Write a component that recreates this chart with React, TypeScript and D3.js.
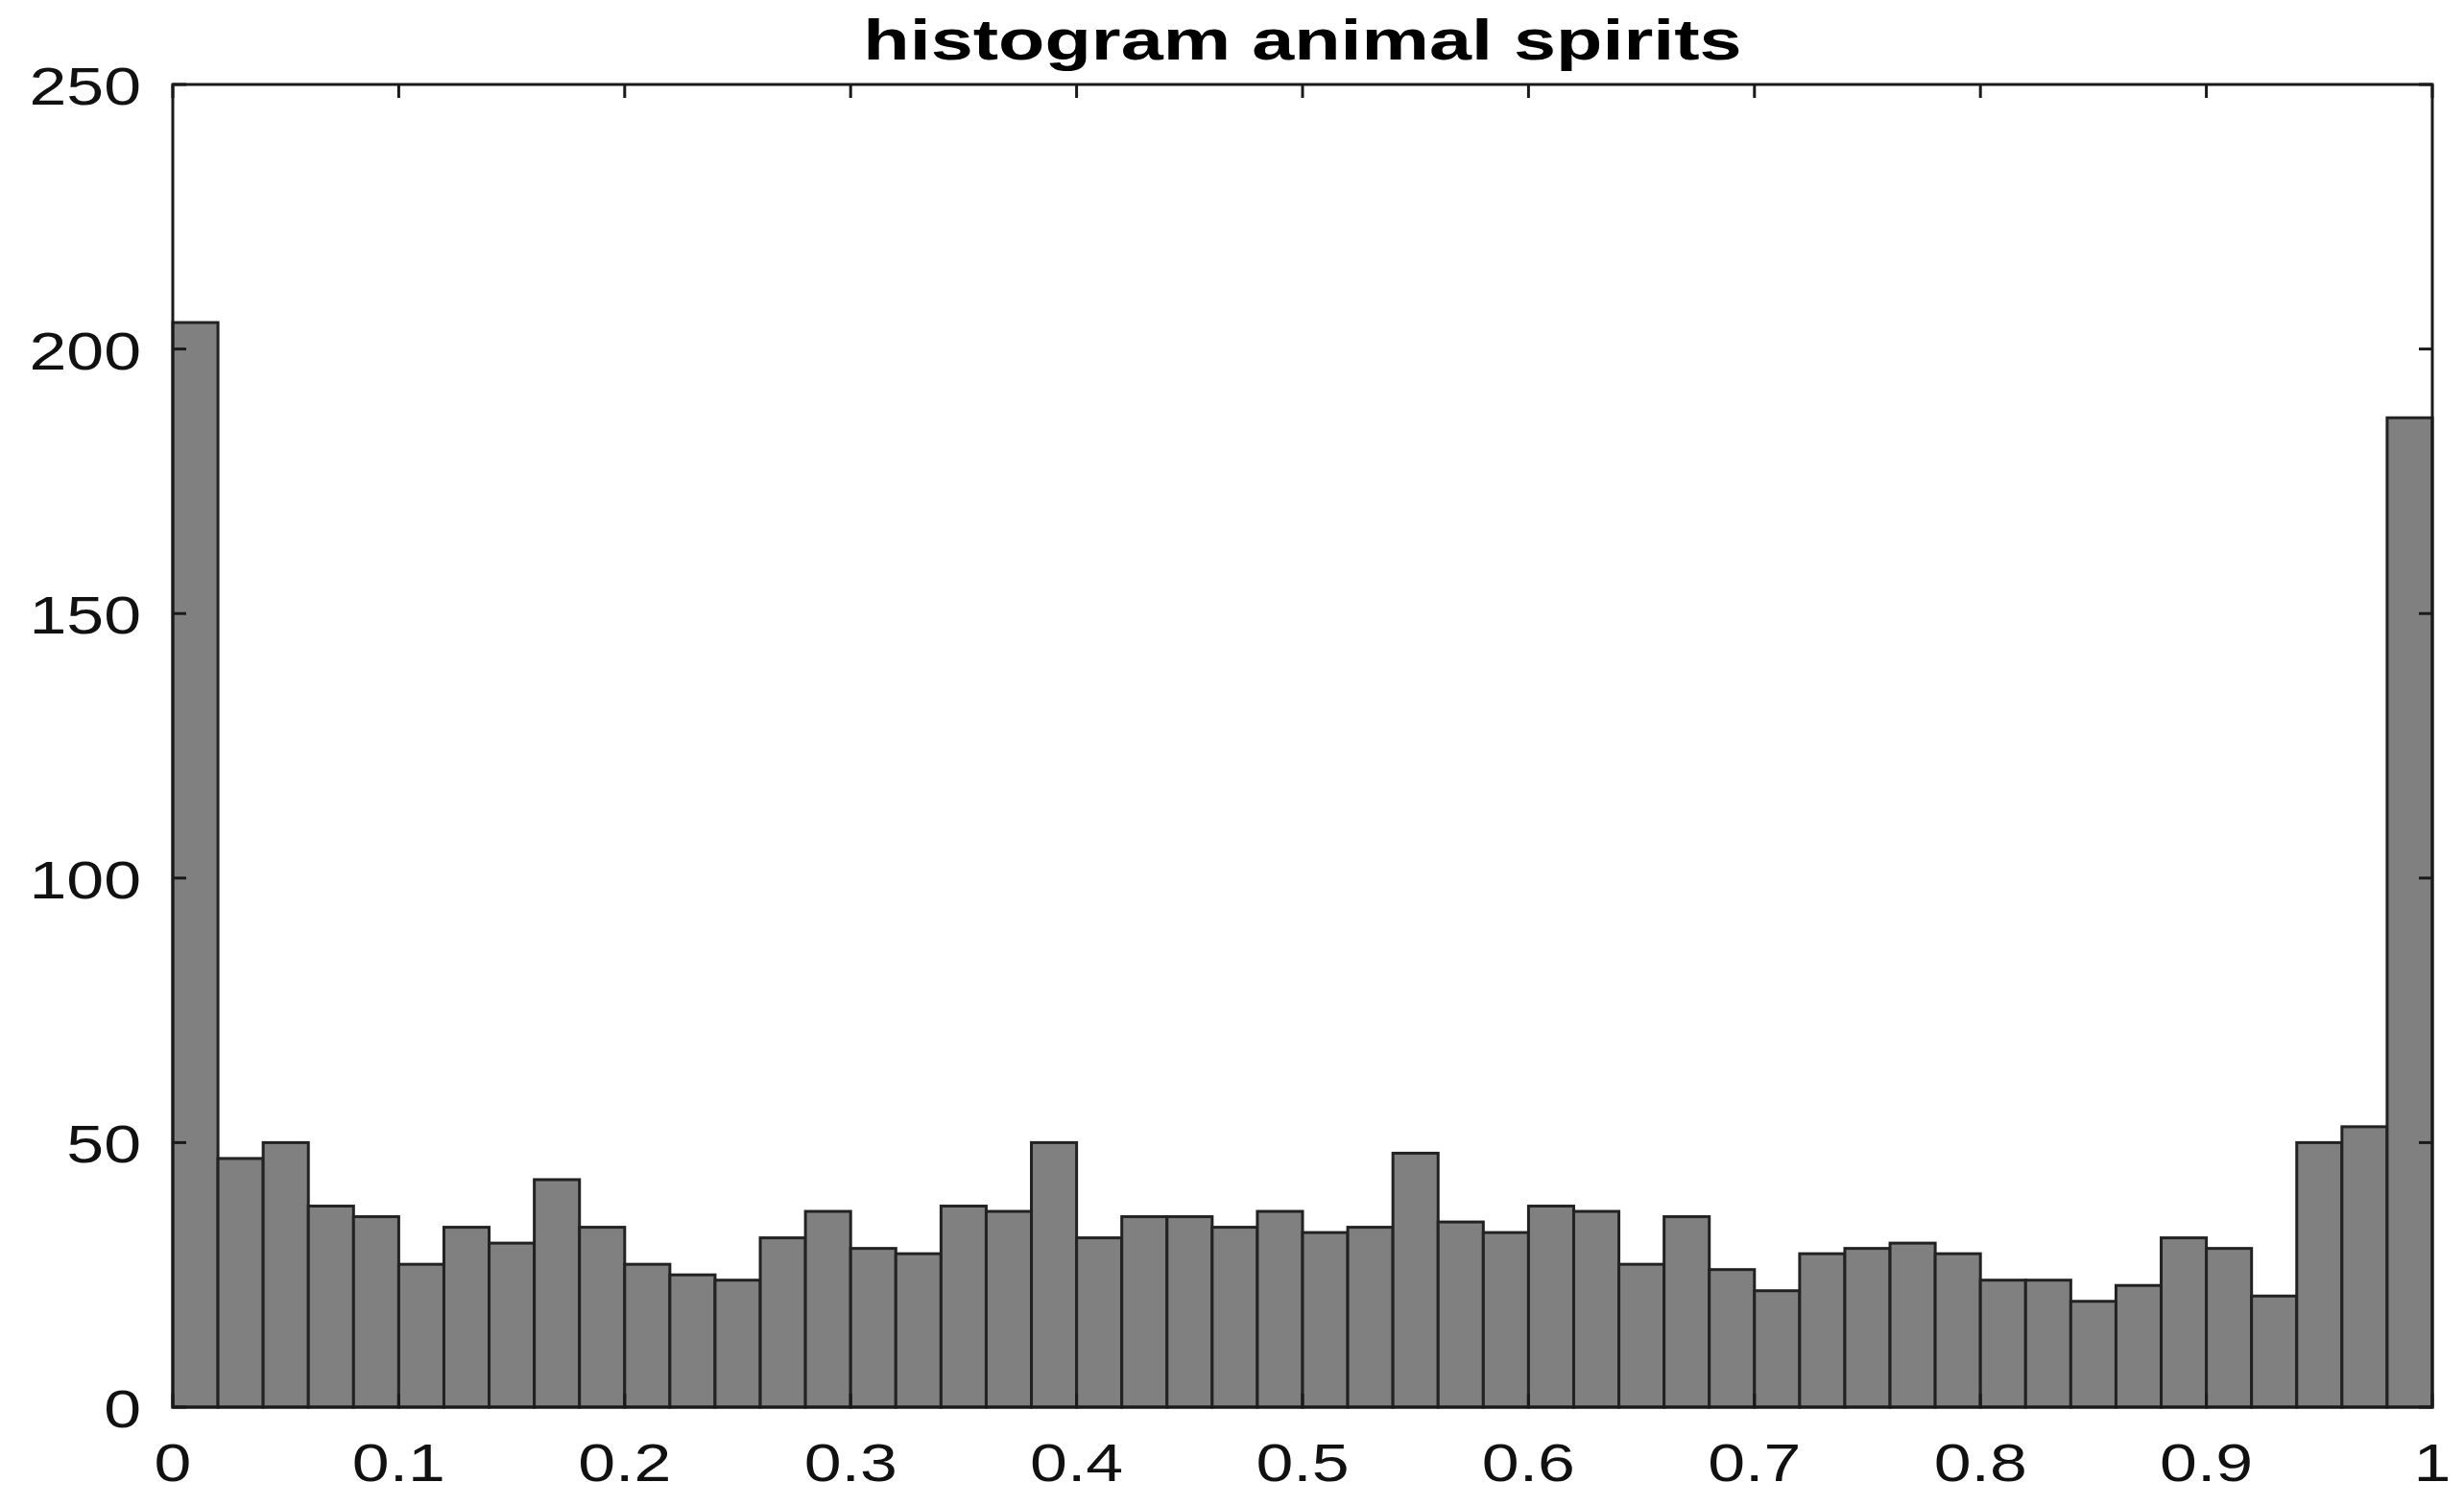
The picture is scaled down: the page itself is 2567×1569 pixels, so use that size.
import React from "react";
import * as d3 from "d3";

const title = "histogram animal spirits";
const binWidth = 0.02;
const counts = [
  205, 47, 50, 38, 36, 27, 34, 31, 43, 34,
  27, 25, 24, 32, 37, 30, 29, 38, 37, 50,
  32, 36, 36, 34, 37, 33, 34, 48, 35, 33,
  38, 37, 27, 36, 26, 22, 29, 30, 31, 29,
  24, 24, 20, 23, 32, 30, 21, 50, 53, 187,
];
const xTicks = [0, 0.1, 0.2, 0.3, 0.4, 0.5, 0.6, 0.7, 0.8, 0.9, 1];
const xTickLabels = ["0", "0.1", "0.2", "0.3", "0.4", "0.5", "0.6", "0.7", "0.8", "0.9", "1"];
const yTicks = [0, 50, 100, 150, 200, 250];
const yTickLabels = ["0", "50", "100", "150", "200", "250"];

const W = 2567;
const H = 1569;
const left = 180, right = 2534, top = 88, bottom = 1466;
const SX = 1.27;
const FONT = "'Liberation Sans', Arial, Helvetica, sans-serif";

export default function App() {
  const x = d3.scaleLinear().domain([0, 1]).range([left, right]);
  const y = d3.scaleLinear().domain([0, 250]).range([bottom, top]);
  const tickLen = 14;
  const axisColor = "#1a1a1a";

  return (
    <svg
      width={W}
      height={H}
      style={{ position: "absolute", left: 0, top: 0, background: "#fff" }}
    >
      <rect x={0} y={0} width={W} height={H} fill="#fff" />
      {counts.map((c, i) => {
        const x0 = x(i * binWidth);
        const x1 = x((i + 1) * binWidth);
        return (
          <rect
            key={i}
            x={x0}
            y={y(c)}
            width={x1 - x0}
            height={y(0) - y(c)}
            fill="#808080"
            stroke="#222"
            strokeWidth={3}
          />
        );
      })}
      <rect
        x={left}
        y={top}
        width={right - left}
        height={bottom - top}
        fill="none"
        stroke={axisColor}
        strokeWidth={3}
      />
      {xTicks.map((t, i) => (
        <g key={"xt" + i}>
          <line x1={x(t)} x2={x(t)} y1={top} y2={top + tickLen} stroke={axisColor} strokeWidth={3} />
          <line x1={x(t)} x2={x(t)} y1={bottom} y2={bottom - tickLen} stroke={axisColor} strokeWidth={3} />
          <text
            transform={`translate(${x(t)},${1543}) scale(${SX},1)`}
            textAnchor="middle"
            fontFamily={FONT}
            fontSize={55}
            fill="#111"
          >
            {xTickLabels[i]}
          </text>
        </g>
      ))}
      {yTicks.map((t, i) => (
        <g key={"yt" + i}>
          <line x1={left} x2={left + tickLen} y1={y(t)} y2={y(t)} stroke={axisColor} strokeWidth={3} />
          <line x1={right} x2={right - tickLen} y1={y(t)} y2={y(t)} stroke={axisColor} strokeWidth={3} />
          <text
            transform={`translate(${147},${y(t) + 21}) scale(${SX},1)`}
            textAnchor="end"
            fontFamily={FONT}
            fontSize={55}
            fill="#111"
          >
            {yTickLabels[i]}
          </text>
        </g>
      ))}
      <text
        transform={`translate(${(left + right) / 2},${62}) scale(1.32,1)`}
        textAnchor="middle"
        fontFamily={FONT}
        fontSize={60}
        fontWeight="bold"
        fill="#000"
      >
        {title}
      </text>
    </svg>
  );
}
